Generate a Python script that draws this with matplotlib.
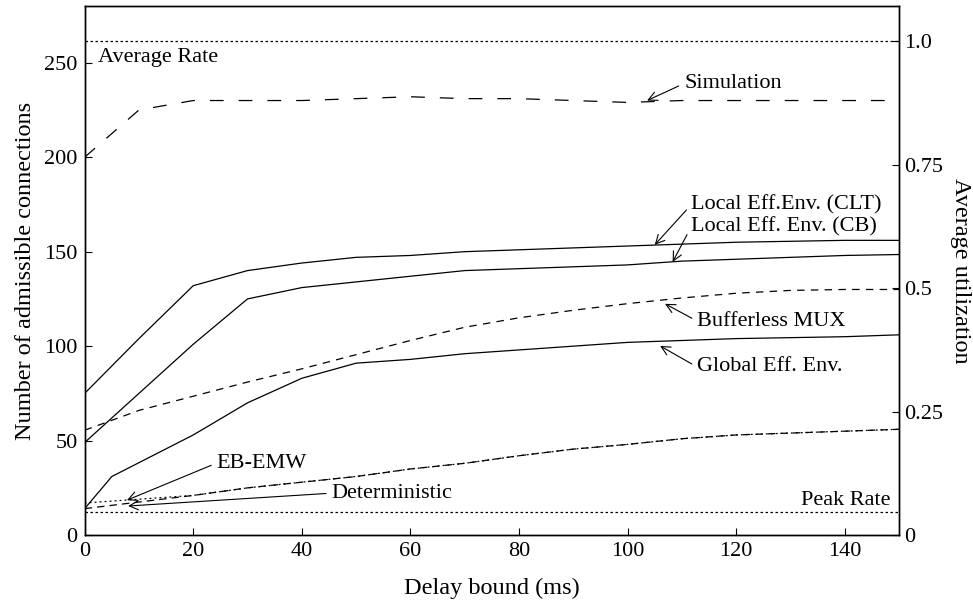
import numpy as np
import matplotlib
matplotlib.use("Agg")
import matplotlib.pyplot as plt

plt.rcParams['font.family'] = ['Liberation Serif', 'DejaVu Serif']
plt.rcParams['font.size'] = 16

# --- data ---
delay = [0, 10, 20, 30, 40, 50, 60, 70, 80, 90, 100, 110, 120, 130, 140, 150]
simulation = [200, 225, 230, 230, 230, 231, 232, 231, 231, 230, 229, 230, 230, 230, 230, 230]
local_clt = [75, 104, 132, 140, 144, 147, 148, 150, 151, 152, 153, 154, 155, 155.5, 156, 156]
local_cb = [49, 75, 101, 125, 131, 134, 137, 140, 141, 142, 143, 145, 146, 147, 148, 148.5]
bufferless = [55.5, 66, 73.5, 81, 88, 95.5, 103, 110, 115, 119, 122.5, 125.5, 128, 129.5, 130, 130]
eb_emw = [17, 19, 21, 25, 28, 31, 35, 38, 42, 45.5, 48, 51, 53, 54, 55, 56]
deterministic = [14, 17.5, 21, 25, 28, 31, 35, 38, 42, 45.5, 48, 51, 53, 54, 55, 56]

global_x = [0, 5, 20, 30, 40, 50, 60, 70, 80, 90, 100, 110, 120, 130, 140, 150]
global_env = [14, 31, 53, 70, 83, 91, 93, 96, 98, 100, 102, 103, 104, 104.5, 105, 106]

AVG_RATE = 261.5   # connections at 100 % utilization
PEAK_RATE = 12.3

left_ticks = [0, 50, 100, 150, 200, 250]
right_ticks = [0, 0.25, 0.5, 0.75, 1.0]
right_labels = ['0', '0.25', '0.5', '0.75', '1.0']
x_ticks = [0, 20, 40, 60, 80, 100, 120, 140]

# --- figure ---
fig = plt.figure(figsize=(9.73, 6.06), dpi=100)
ax = fig.add_axes([0.087, 0.117, 0.837, 0.873])
lw = 0.9

ax.axhline(AVG_RATE, color='k', lw=lw, dashes=(2, 2))
ax.axhline(PEAK_RATE, color='k', lw=lw, dashes=(2, 2))
ax.plot(delay, simulation, color='k', lw=lw, dashes=(11, 12))
ax.plot(delay, local_clt, color='k', lw=lw)
ax.plot(delay, local_cb, color='k', lw=lw)
ax.plot(delay, bufferless, color='k', lw=lw, dashes=(6, 5))
ax.plot(global_x, global_env, color='k', lw=lw)
ax.plot(delay, eb_emw, color='k', lw=lw, dashes=(1.5, 2.5))
ax.plot(delay, deterministic, color='k', lw=lw, dashes=(6, 4))

ax.set_xlim(0, 150)
ax.set_ylim(0, 280)
ax.set_xticks(x_ticks)
ax.set_yticks(left_ticks)
ax.tick_params(direction='in', length=5, width=0.8, pad=5)
ax.set_xlabel('Delay bound (ms)', fontsize=17.5, labelpad=12)
ax.set_ylabel('Number of admissible connections', fontsize=17.5, labelpad=6)

ax2 = ax.twinx()
ax2.set_ylim(0, 280 / AVG_RATE)
ax2.set_yticks(right_ticks)
ax2.set_yticklabels(right_labels)
ax2.tick_params(direction='in', length=5, width=0.8)
ax2.set_ylabel('Average utilization', fontsize=17.5, rotation=-90, labelpad=20)

for a in (ax, ax2):
    for s in a.spines.values():
        s.set_linewidth(1.0)

# --- labels ---
ax.text(2.5, 253, 'Average Rate', ha='left', va='center')
ax.text(148.5, 18.5, 'Peak Rate', ha='right', va='center')

arrow = dict(arrowstyle='->', lw=0.8, color='k', shrinkA=2, shrinkB=0)
notes = [
    ('Simulation', (103.6, 230), (110.4, 239)),
    ('Local Eff.Env. (CLT)', (105.0, 153.6), (111.7, 174.8)),
    ('Local Eff. Env. (CB)', (108.3, 144.6), (111.7, 163.1)),
    ('Bufferless MUX', (106.9, 122.4), (112.8, 113.3)),
    ('Global Eff. Env.', (106.0, 100.1), (112.8, 89)),
    ('EB-EMW', (7.8, 18.5), (24.3, 38.1)),
    ('Deterministic', (8.0, 15.4), (45.5, 22.2)),
]
for label, tip, pos in notes:
    ax.annotate(label, xy=tip, xytext=pos, ha='left', va='center',
                arrowprops=dict(arrow, relpos=(0, 0.5)))

fig.savefig('out.png', dpi=100)
